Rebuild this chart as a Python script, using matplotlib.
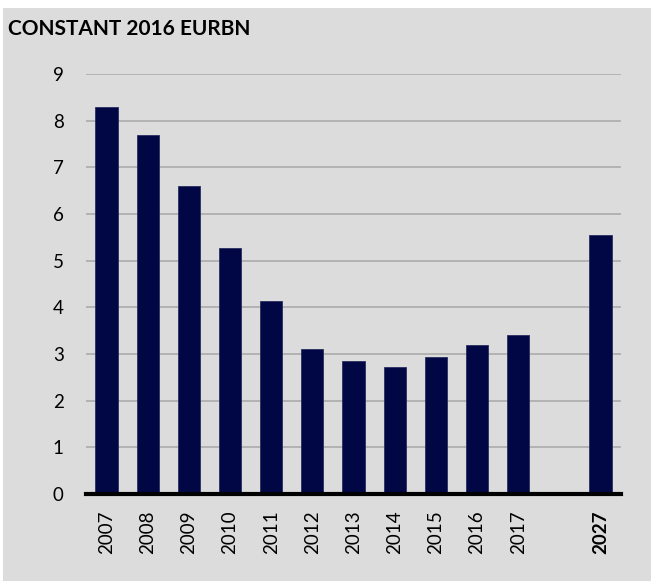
import matplotlib.pyplot as plt
from matplotlib.patches import Rectangle
import numpy as np

plt.rcParams['font.family'] = ['Lato', 'DejaVu Sans']

# Data
years = ['2007', '2008', '2009', '2010', '2011', '2012', '2013',
         '2014', '2015', '2016', '2017', '2027']
values = [8.30, 7.69, 6.59, 5.27, 4.13, 3.11, 2.85, 2.71, 2.93, 3.19, 3.41, 5.54]
# slot positions: one empty slot between 2017 and 2027
slots = [0, 1, 2, 3, 4, 5, 6, 7, 8, 9, 10, 12]

BG = '#dcdcdc'
BAR = '#000744'

fig = plt.figure(figsize=(6.51, 5.81), dpi=100, facecolor='white')
fig.patches.append(Rectangle((3 / 651, 0), 1, 1 - 8 / 581, transform=fig.transFigure,
                             facecolor=BG, edgecolor='none', zorder=-10))

ax = fig.add_axes([0.132, 0.15, 0.822, 0.7226])
ax.set_facecolor(BG)

ax.bar(slots, values, width=0.54, color=BAR, edgecolor='#2a2f60', linewidth=0.6, zorder=3)

ax.set_xlim(-0.5, 12.5)
ax.set_ylim(0, 9)
ax.set_yticks(np.arange(0, 10))
for y in range(1, 10):
    ax.axhline(y, color='#ababab', linewidth=1.2, zorder=1)

for side in ['top', 'right', 'left']:
    ax.spines[side].set_visible(False)
ax.spines['bottom'].set_linewidth(3)
ax.spines['bottom'].set_color('black')
ax.spines['bottom'].set_zorder(4)

ax.tick_params(axis='y', length=0, pad=16, labelsize=13.5)
ax.tick_params(axis='x', length=0, pad=12, labelsize=13.5)
ax.set_xticks(slots)
ax.set_xticklabels(years, rotation=90)
ax.get_xticklabels()[-1].set_fontweight('bold')

fig.text(8 / 651, 1 - 29 / 581, 'CONSTANT 2016 EURBN', fontsize=15, fontweight='bold',
         ha='left', va='center')

fig.savefig('out.png', dpi=100, facecolor=fig.get_facecolor())
